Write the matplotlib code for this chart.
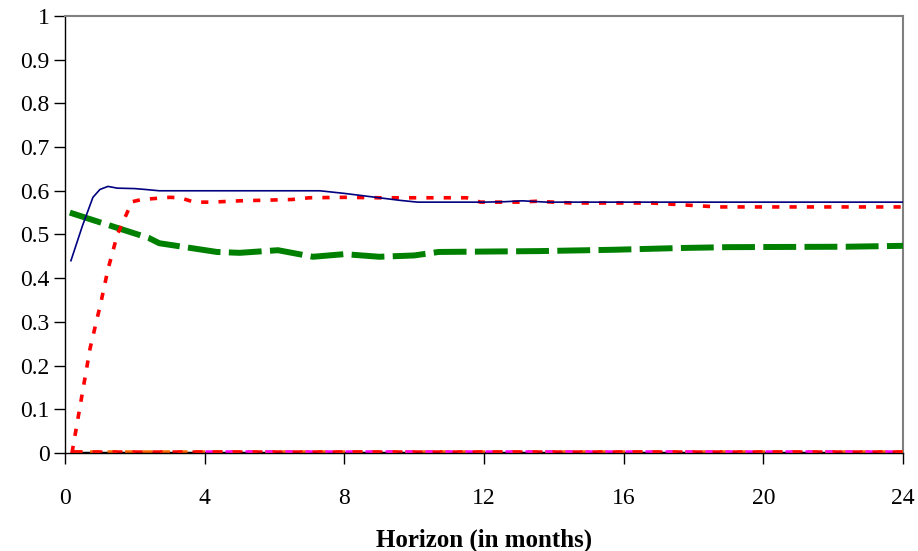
import matplotlib
matplotlib.use("Agg")
import matplotlib.pyplot as plt

# ---- data ----
blue_x = [0.17, 0.5, 0.8, 1.0, 1.23, 1.5, 2.0, 2.3, 2.7, 4.0, 6.0, 7.3, 8.0, 9.0, 9.6, 10.1, 11.0, 12.0, 12.6, 13.1, 13.8, 16.0, 20.0, 24.0]
blue_y = [0.44, 0.52, 0.585, 0.603, 0.61, 0.606, 0.605, 0.603, 0.600, 0.600, 0.600, 0.600, 0.594, 0.584, 0.578, 0.574, 0.574, 0.574, 0.575, 0.577, 0.574, 0.574, 0.574, 0.574]

red_x = [0.2, 0.72, 1.03, 1.23, 1.5, 1.92, 2.2, 3.0, 3.3, 3.7, 4.2, 5.0, 6.5, 7.0, 8.0, 9.0, 10.0, 11.5, 11.9, 13.0, 13.5, 14.5, 16.8, 18.7, 20.0, 22.0, 24.0]
red_y = [0.0, 0.24, 0.345, 0.42, 0.50, 0.575, 0.58, 0.585, 0.584, 0.574, 0.574, 0.577, 0.580, 0.584, 0.585, 0.584, 0.584, 0.584, 0.574, 0.574, 0.576, 0.572, 0.572, 0.563, 0.563, 0.563, 0.563]

green_x = [0.14, 1.5, 2.4, 2.7, 4.35, 5.0, 6.1, 7.1, 8.0, 9.0, 10.0, 10.7, 13.6, 15.7, 17.6, 19.0, 22.4, 24.0]
green_y = [0.55, 0.515, 0.492, 0.48, 0.46, 0.458, 0.464, 0.449, 0.455, 0.449, 0.452, 0.46, 0.462, 0.465, 0.469, 0.471, 0.472, 0.474]

zero_x = [0.2, 24.0]
black_y = [0.0, 0.0]
red0_y = [0.004, 0.004]
orange0_y = [0.004, 0.004]
magenta0_x = [4.0, 24.0]
magenta0_y = [0.005, 0.005]

x_ticks = [0, 4, 8, 12, 16, 20, 24]
y_ticks = [0, 0.1, 0.2, 0.3, 0.4, 0.5, 0.6, 0.7, 0.8, 0.9, 1.0]
y_labels = ["0", "0.1", "0.2", "0.3", "0.4", "0.5", "0.6", "0.7", "0.8", "0.9", "1"]

plt.rcParams['font.family'] = ['Liberation Serif', 'DejaVu Serif']

fig = plt.figure(figsize=(9.18, 5.51), dpi=100)
ax = fig.add_axes([0.0708, 0.1779, 0.9129, 0.7931])

ax.plot(zero_x, black_y, color='black', lw=2.5, zorder=2)
ax.plot(zero_x, orange0_y, color='#FF6600', lw=1.8, dashes=(4, 3), zorder=3)
ax.plot(magenta0_x, magenta0_y, color='#FF00FF', lw=1.8, dashes=(3, 5), zorder=3)
ax.plot(zero_x, red0_y, color='#FF0000', lw=1.8, dashes=(4, 4), zorder=3)

ax.plot(green_x, green_y, color='#008000', lw=4.3, dashes=(5.5, 1.4), zorder=4)
ax.plot(red_x, red_y, color='#FF0000', lw=2.6, dashes=(2.0, 2.8), zorder=5)
ax.plot(blue_x, blue_y, color='#000080', lw=1.2, zorder=6)

ax.set_xlim(0, 24)
ax.set_ylim(0, 1)
ax.set_xticks(x_ticks)
ax.set_xticklabels([str(t) for t in x_ticks])
ax.set_yticks(y_ticks)
ax.set_yticklabels(y_labels)

for s in ['top', 'right']:
    ax.spines[s].set_color('#808080')
    ax.spines[s].set_linewidth(1.5)
for s in ['left', 'bottom']:
    ax.spines[s].set_color('black')
    ax.spines[s].set_linewidth(1)

ax.tick_params(axis='y', direction='out', length=8, width=1, pad=3, labelsize=17)
ax.tick_params(axis='x', direction='out', length=8, width=1, pad=17, labelsize=17)
ax.set_xlabel("Horizon (in months)", fontsize=18, fontweight='bold', labelpad=14)

fig.savefig("out.png", dpi=100)
